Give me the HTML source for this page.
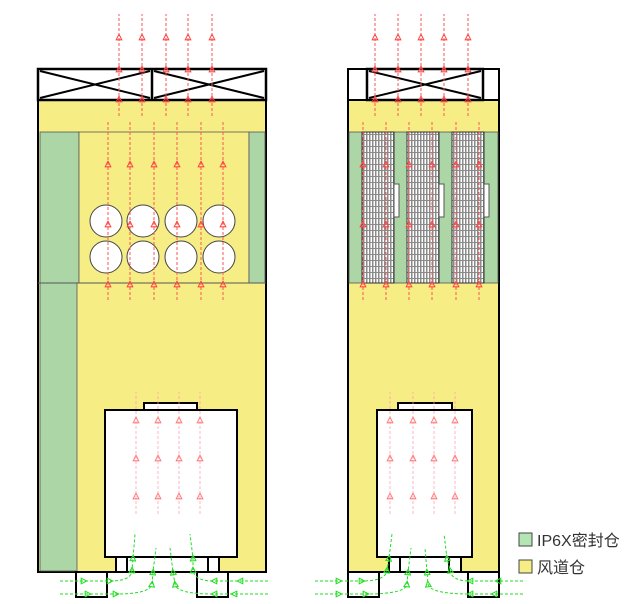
<!DOCTYPE html>
<html><head><meta charset="utf-8"><style>
html,body{margin:0;padding:0;background:#fff;}
svg{display:block;}
text{font-family:"Liberation Sans","Noto Sans CJK SC",sans-serif;}
</style></head><body>
<svg width="640" height="604" viewBox="0 0 640 604" xmlns="http://www.w3.org/2000/svg">
<defs>
<pattern id="st" width="3" height="6" patternUnits="userSpaceOnUse">
<rect width="3" height="6" fill="#fff"/>
<rect x="0" width="1.5" height="6" fill="#8a8a8a"/>
<rect x="1.5" y="2" width="1.5" height="1" fill="#8a8a8a"/>
</pattern>
<marker id="ar" viewBox="0 0 10 10" refX="5" refY="5" markerWidth="7" markerHeight="7" orient="auto"><path d="M1,1 L9,5 L1,9 Z" fill="none" stroke="#f44" stroke-width="1.5"/></marker>
<marker id="ag" viewBox="0 0 10 10" refX="5" refY="5" markerWidth="7" markerHeight="7" orient="auto"><path d="M1,1 L9,5 L1,9 Z" fill="none" stroke="#2d2" stroke-width="1.5"/></marker>
</defs>

<!-- LEFT CABINET -->
<rect x="38" y="100" width="228" height="472" fill="#f6ee84" stroke="#000" stroke-width="2"/>
<rect x="40" y="132" width="39" height="151" fill="#acd6a6" stroke="#555" stroke-width="0.8"/>
<rect x="79" y="132" width="170" height="151" fill="#f6ee84" stroke="#555" stroke-width="0.8"/>
<rect x="249" y="132" width="16" height="151" fill="#acd6a6" stroke="#555" stroke-width="0.8"/>
<rect x="40" y="283" width="37" height="288" fill="#acd6a6" stroke="#555" stroke-width="0.8"/>
<line x1="38" y1="283" x2="266" y2="283" stroke="#555" stroke-width="1"/>
<g fill="#fff" stroke="#444" stroke-width="1">
<circle cx="106" cy="221" r="16"/><circle cx="143" cy="221" r="16"/><circle cx="181" cy="221" r="16"/><circle cx="219" cy="221" r="16"/>
<circle cx="106" cy="257" r="16"/><circle cx="143" cy="257" r="16"/><circle cx="181" cy="257" r="16"/><circle cx="219" cy="257" r="16"/>
</g>
<rect x="38" y="69" width="228" height="31" fill="#fff" stroke="#000" stroke-width="2.5"/>
<line x1="152" y1="69" x2="152" y2="100" stroke="#000" stroke-width="2.5"/>
<path d="M40,71 L150,98 M40,98 L150,71 M154,71 L264,98 M154,98 L264,71" stroke="#000" stroke-width="2"/>
<rect x="105" y="410" width="132" height="147" fill="#fff" stroke="#000" stroke-width="2"/>
<rect x="144" y="403" width="53" height="7" fill="#fff" stroke="#000" stroke-width="2"/>
<rect x="116" y="557" width="103" height="15" fill="#fff" stroke="#000" stroke-width="2"/>
<path d="M127,557V572M208,557V572" stroke="#000" stroke-width="2"/>
<rect x="76" y="572" width="31" height="25" fill="#fff" stroke="#000" stroke-width="2"/>
<rect x="197" y="572" width="31" height="25" fill="#fff" stroke="#000" stroke-width="2"/>

<!-- RIGHT CABINET -->
<rect x="348" y="100" width="151" height="472" fill="#f6ee84" stroke="#000" stroke-width="2"/>
<rect x="349" y="132" width="149" height="151" fill="#acd6a6" stroke="#555" stroke-width="0.8"/>
<rect x="362" y="132" width="32" height="151" fill="url(#st)" stroke="#333" stroke-width="1"/>
<rect x="407" y="132" width="32" height="151" fill="url(#st)" stroke="#333" stroke-width="1"/>
<rect x="452" y="132" width="32" height="151" fill="url(#st)" stroke="#333" stroke-width="1"/>
<g fill="#fff" stroke="#555" stroke-width="1">
<rect x="394" y="184" width="5" height="33"/><rect x="439" y="184" width="5" height="33"/><rect x="484" y="184" width="5" height="33"/>
</g>
<rect x="348" y="69" width="151" height="31" fill="#fff" stroke="#000" stroke-width="2"/>
<rect x="367" y="69" width="116" height="31" fill="#fff" stroke="#000" stroke-width="2.5"/>
<path d="M369,71 L481,98 M369,98 L481,71" stroke="#000" stroke-width="2"/>
<rect x="377" y="410" width="95" height="147" fill="#fff" stroke="#000" stroke-width="2"/>
<rect x="398" y="403" width="54" height="7" fill="#fff" stroke="#000" stroke-width="2"/>
<rect x="389" y="557" width="72" height="15" fill="#fff" stroke="#000" stroke-width="2"/>
<path d="M400,557V572M449,557V572" stroke="#000" stroke-width="2"/>
<rect x="348" y="572" width="31" height="25" fill="#fff" stroke="#000" stroke-width="2"/>
<rect x="468" y="572" width="31" height="25" fill="#fff" stroke="#000" stroke-width="2"/>

<!-- RED ARROWS -->
<g stroke="#f55" stroke-width="1" stroke-dasharray="3,2" fill="none" marker-mid="url(#ar)">
<path d="M119,116 V99 V69 V37 V14"/><path d="M142,116 V99 V69 V37 V14"/><path d="M166,116 V99 V69 V37 V14"/><path d="M188,116 V99 V69 V37 V14"/><path d="M212,116 V99 V69 V37 V14"/>
<path d="M108,300 V284 V224 V164 V120"/><path d="M130,300 V284 V224 V164 V120"/><path d="M154,300 V284 V224 V164 V120"/><path d="M177,300 V284 V224 V164 V120"/><path d="M201,300 V284 V224 V164 V120"/><path d="M223,300 V284 V224 V164 V120"/>
<path d="M375,116 V99 V69 V37 V14"/><path d="M398,116 V99 V69 V37 V14"/><path d="M421,116 V99 V69 V37 V14"/><path d="M444,116 V99 V69 V37 V14"/><path d="M468,116 V99 V69 V37 V14"/>
<path d="M363,300 V284 V224 V164 V120"/><path d="M386,300 V284 V224 V164 V120"/><path d="M409,300 V284 V224 V164 V120"/><path d="M432,300 V284 V224 V164 V120"/><path d="M456,300 V284 V224 V164 V120"/><path d="M479,300 V284 V224 V164 V120"/>
</g>
<g stroke="#f9a" stroke-width="1" stroke-dasharray="3,2" fill="none" marker-mid="url(#ar)" opacity="0.7">
<path d="M136,514 V496 V458 V420 V392"/><path d="M158,514 V496 V458 V420 V392"/><path d="M179,514 V496 V458 V420 V392"/><path d="M200,514 V496 V458 V420 V392"/>
<path d="M390,514 V496 V458 V420 V392"/><path d="M413,514 V496 V458 V420 V392"/><path d="M434,514 V496 V458 V420 V392"/><path d="M455,514 V496 V458 V420 V392"/>
</g>

<!-- GREEN ARROWS -->
<g stroke="#2d2" stroke-width="1" stroke-dasharray="3,2" fill="none" marker-mid="url(#ag)">
<path d="M60,581 L84,581 L110,581 Q132,581 132,570 L133,558 L135,534"/>
<path d="M60,594 L88,594 L116,594 Q150,594 152,584 L153,572 L156,548"/>
<path d="M268,581 L240,581 L214,581 Q194,581 193,570 L193,558 L190,534"/>
<path d="M268,594 L234,594 L214,594 Q176,594 175,584 L173,572 L170,548"/>
<path d="M315,581 L339,581 L362,581 Q386,581 387,570 L389,558 L392,534"/>
<path d="M315,594 L339,594 L366,594 Q406,594 407,584 L408,572 L411,548"/>
<path d="M523,581 L498,581 L470,581 Q451,581 450,570 L447,558 L444,534"/>
<path d="M523,594 L494,594 L470,594 Q430,594 428,584 L427,572 L425,548"/>
</g>

<!-- LEGEND -->
<rect x="519" y="533" width="13" height="13" fill="#b4e6b4" stroke="#444" stroke-width="1"/>
<text x="537" y="546" font-size="16" fill="#333">IP6X密封仓</text>
<rect x="519" y="560" width="13" height="13" fill="#f6ee84" stroke="#444" stroke-width="1"/>
<text x="537" y="573" font-size="16" fill="#333">风道仓</text>
</svg>
</body></html>
